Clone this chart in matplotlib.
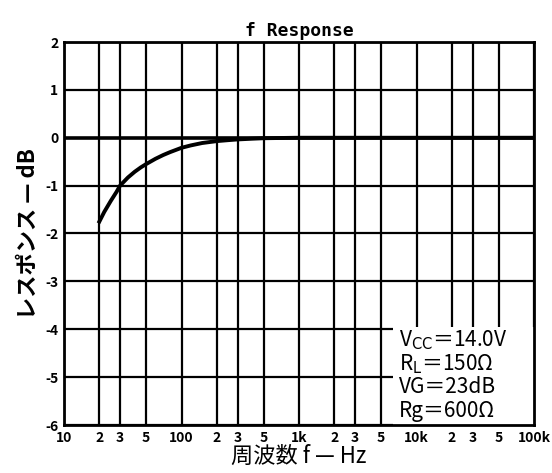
import matplotlib.pyplot as plt
from matplotlib.patches import Rectangle

plt.rcParams['font.family'] = ['Noto Sans CJK JP', 'DejaVu Sans']

freq = [20, 22, 25, 28, 30, 35, 40, 45, 50, 60, 70, 80, 100, 120, 150,
        200, 250, 300, 400, 500, 700, 1000, 10000, 100000]
resp = [-1.75, -1.55, -1.32, -1.13, -1.0, -0.83, -0.71, -0.62, -0.55, -0.44,
        -0.36, -0.3, -0.21, -0.16, -0.11, -0.07, -0.05, -0.035, -0.02, -0.01,
        -0.005, 0, 0, 0]

x_ticks = [10, 20, 30, 50, 100, 200, 300, 500, 1000, 2000, 3000, 5000,
           10000, 20000, 30000, 50000, 100000]
x_labels = ["10", "2", "3", "5", "100", "2", "3", "5", "1k", "2", "3", "5",
            "10k", "2", "3", "5", "100k"]
y_ticks = [2, 1, 0, -1, -2, -3, -4, -5, -6]

conditions = [r"V$_{\mathrm{CC}}$＝14.0V", r"R$_{\mathrm{L}}$＝150Ω",
              "VG＝23dB", "Rg＝600Ω"]

fig = plt.figure(figsize=(5.52, 4.73), dpi=100)
ax = fig.add_axes([64 / 552, 48 / 473, 470 / 552, 383 / 473])

ax.set_xscale("log")
ax.set_xlim(10, 100000)
ax.set_ylim(-6, 2)

for x in x_ticks:
    ax.axvline(x, color="black", lw=1.6, zorder=1)
for y in y_ticks:
    ax.axhline(y, color="black", lw=2.6 if y == 0 else 1.6, zorder=1)

ax.plot(freq, resp, color="black", lw=2.8, zorder=3)

# condition box over the lower right grid
ax.add_patch(Rectangle((0.70, 0.0), 0.30, 0.257, transform=ax.transAxes,
                       facecolor="white", edgecolor="none", zorder=2))
for i, s in enumerate(conditions):
    ax.text(0.713, 0.222 - i * 0.062, s, transform=ax.transAxes, fontsize=15,
            va="center", ha="left", zorder=4)

for s in ax.spines.values():
    s.set_linewidth(2)

ax.set_xticks(x_ticks)
ax.set_xticklabels(x_labels, fontweight="bold", fontsize=10)
ax.minorticks_off()
ax.set_yticks(y_ticks)
ax.set_yticklabels([str(v) for v in y_ticks], fontweight="bold", fontsize=10)
ax.tick_params(length=0, pad=4)

ax.set_title("f Response", fontsize=13, family="DejaVu Sans Mono",
             fontweight="bold", pad=4)
ax.set_ylabel("レスポンス — dB", fontsize=16, fontweight="bold", labelpad=4)
ax.set_xlabel("周波数 f — Hz", fontsize=16, labelpad=0)

plt.savefig("out.png", dpi=100)
